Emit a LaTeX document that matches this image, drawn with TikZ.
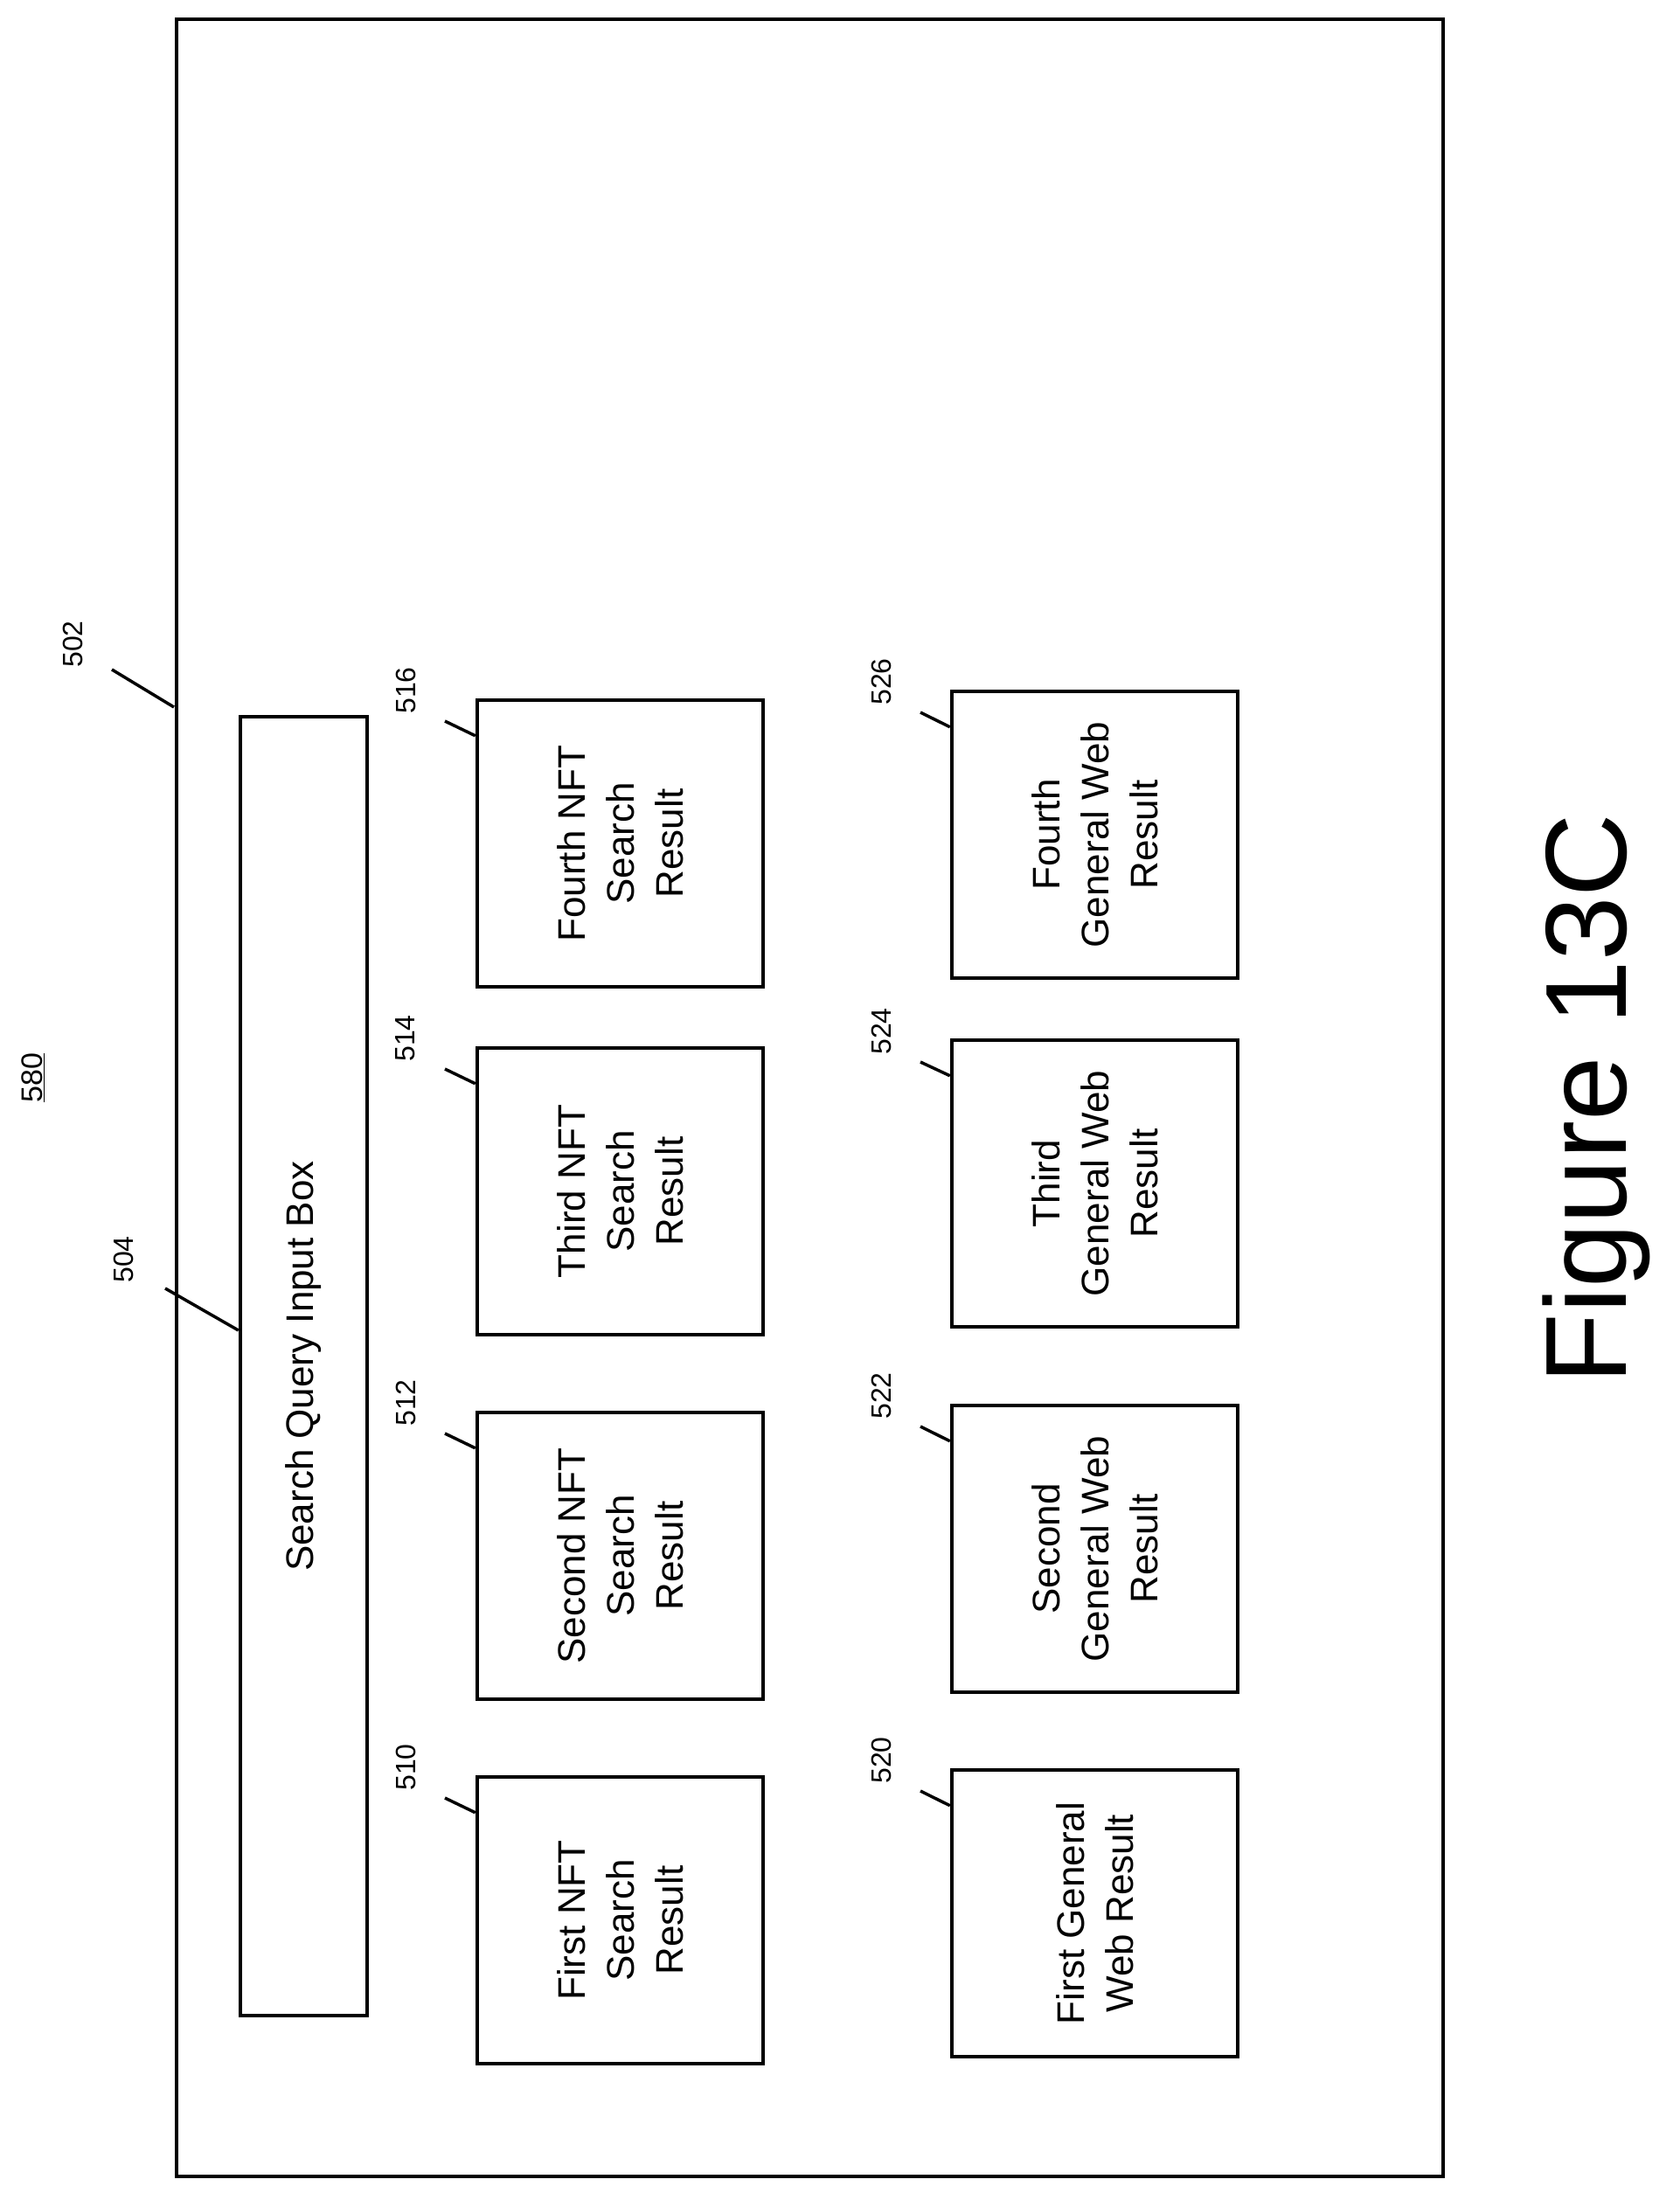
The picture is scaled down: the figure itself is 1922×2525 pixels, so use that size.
\documentclass[tikz,border=0pt]{standalone}
\usepackage{fontspec}
\setmainfont{Liberation Sans}
\usetikzlibrary{calc}
\tikzset{
  box/.style={draw, line width=4.5pt, rotate=90, minimum width=328pt, minimum height=327pt, align=center, font=\fontsize{44}{56}\selectfont, inner sep=0pt},
  num/.style={rotate=90, font=\fontsize{32}{38}\selectfont, inner sep=0pt},
  lead/.style={line width=3.5pt}
}
\begin{document}
\begin{tikzpicture}[x=1pt, y=-1pt]
\useasboundingbox (0,0) rectangle (1922,2525);
\node[draw, line width=4.5pt, minimum width=1449pt, minimum height=2468pt, inner sep=0pt] (frame) at (926.5,1256) {};
\node[box, minimum width=1486pt, minimum height=145pt] (n504) at (347.5,1563) {Search Query Input Box};
% NFT results
\node[box] (n516) at (709.5,965) {Fourth NFT\\Search\\Result};
\node[box] (n514) at (709.5,1363) {Third NFT\\Search\\Result};
\node[box] (n512) at (709.5,1780) {Second NFT\\Search\\Result};
\node[box] (n510) at (709.5,2197) {First NFT\\Search\\Result};
% general web results
\node[box] (n526) at (1252.5,955) {Fourth\\General Web\\Result};
\node[box] (n524) at (1252.5,1354) {Third\\General Web\\Result};
\node[box] (n522) at (1252.5,1772) {Second\\General Web\\Result};
\node[box] (n520) at (1252.5,2189) {First General\\Web Result};
% reference numerals
\node[num, font=\fontsize{34}{40}\selectfont] (n580) at (38,1233) {\underline{580}};
\node[num] (l502) at (83,737) {502};
\node[num] (l504) at (141,1441) {504};
\foreach \n/\x/\y in {516/464/790, 514/464/1188, 512/464/1605, 510/464/2022,
                      526/1008/780, 524/1008/1180, 522/1008/1597, 520/1008/2014} {
  \node[num] (l\n) at (\x,\y) {\n};
  \draw[lead] ($(l\n)+(45,35)$) -- ($(n\n.north east)+(0,43)$);
}
\coordinate (c502) at (199,809);
\draw[lead] ($(l502)+(45,29)$) -- (c502);
\draw[lead] ($(l504)+(48,33)$) -- ($(n504.north)+(0,-41)$);
\node[rotate=90, font=\fontsize{132}{150}\selectfont, inner sep=0pt] (fig) at (1826,1257) {Figure 13C};
\end{tikzpicture}
\end{document}
